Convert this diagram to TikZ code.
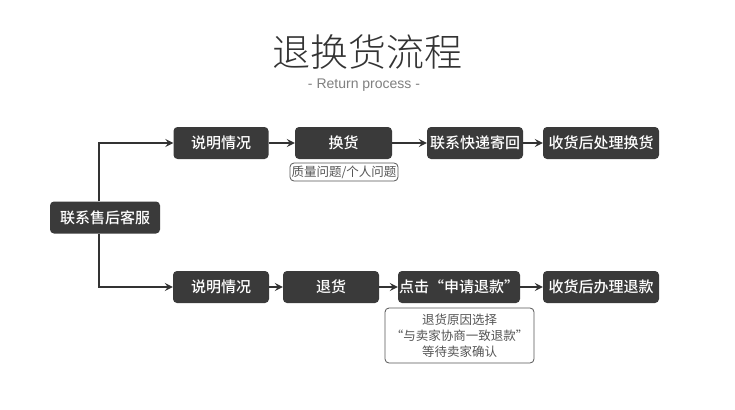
\documentclass[tikz,border=0pt]{standalone}
\usepackage{fontspec}
\setmainfont{Noto Sans CJK SC}
\newfontfamily\cjklight{Noto Sans CJK SC}[UprightFont=* Light]
\newfontfamily\cjkmed{Noto Sans CJK SC}[UprightFont=* Medium]
\newfontfamily\latinsans{Liberation Sans}
\usetikzlibrary{arrows.meta}
\definecolor{boxgray}{HTML}{3A3A3A}
\definecolor{linegray}{HTML}{333333}
\definecolor{notegray}{HTML}{555555}
\definecolor{subgray}{HTML}{808080}
\tikzset{
  box/.style={fill=boxgray, text=white, rounded corners=4pt, minimum height=32pt, inner sep=0pt, font=\cjkmed\fontsize{15}{18}\selectfont},
  notebox/.style={draw=notegray, line width=0.8pt, fill=white, text=notegray, rounded corners=4pt, inner sep=0pt, align=center, font=\fontsize{12.5}{16}\selectfont},
  conn/.style={draw=linegray, line width=1.5pt, -{Stealth[length=8pt,width=8pt,inset=3pt]}}
}
\begin{document}
\begin{tikzpicture}[x=1pt,y=-1pt]
\useasboundingbox[fill=white] (0,0) rectangle (735,409);
\node[text=linegray, font=\cjklight\fontsize{38}{40}\selectfont] (title) at (367,52) {退换货流程};
\node[text=subgray, font=\latinsans\fontsize{14}{16}\selectfont] (sub) at (364,85) {- Return process -};

\node[box, minimum width=110pt] (c) at (105,217.5) {联系售后客服};

\node[box, minimum width=95pt] (a1) at (221,143) {说明情况};
\node[box, minimum width=97pt] (a2) at (343.5,143) {换货};
\node[box, minimum width=96pt] (a3) at (475,143) {联系快递寄回};
\node[box, minimum width=116pt] (a4) at (601,143) {收货后处理换货};
\node[notebox, minimum width=108pt, minimum height=18pt] (n1) at (344,172) {质量问题/个人问题};

\node[box, minimum width=96pt] (b1) at (221,287) {说明情况};
\node[box, minimum width=96pt] (b2) at (331,287) {退货};
\node[box, minimum width=122pt] (b3) at (459,287) {点击“申请退款”};
\node[box, minimum width=116pt] (b4) at (601,287) {收货后办理退款};
\node[notebox, minimum width=149pt, minimum height=55pt] (n2) at (459.5,335.5) {退货原因选择\\“与卖家协商一致退款”\\等待卖家确认};

\coordinate (top) at (99,143);
\coordinate (bot) at (99,287);
\draw[conn] (c.north -| top) -- (top) -- (a1.west);
\draw[conn] (c.south -| bot) -- (bot) -- (b1.west);
\draw[conn] (a1) -- (a2);
\draw[conn] (a2) -- (a3);
\draw[conn] (a3) -- (a4);
\draw[conn] (b1) -- (b2);
\draw[conn] (b2) -- (b3);
\draw[conn] (b3) -- (b4);
\end{tikzpicture}
\end{document}
